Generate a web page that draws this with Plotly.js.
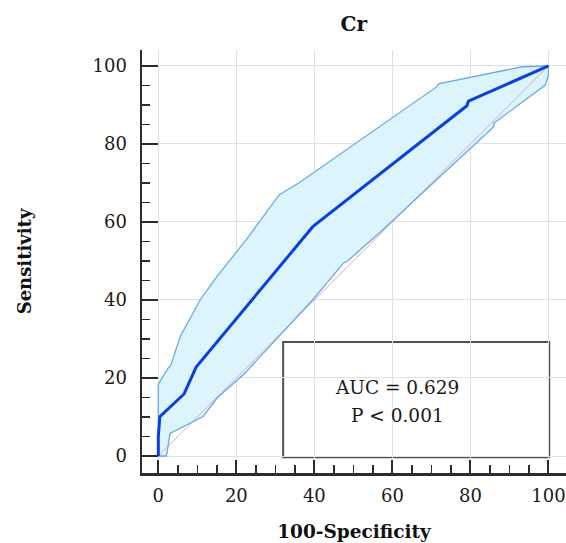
<!DOCTYPE html>
<html>
<head>
<meta charset="utf-8">
<script src="https://cdn.plot.ly/plotly-3.0.1.min.js"></script>
<style>html,body{margin:0;padding:0;background:#fff;}#chart{width:566px;height:543px;}</style>
</head>
<body>
<div id="chart"></div>
<script>
// ROC curve (100-Specificity vs Sensitivity)
var rocX = [0, 0, 0.4, 6.0, 6.6, 9.7, 39.0, 39.6, 79.1, 79.5, 100];
var rocY = [0, 5, 10.1, 15.5, 15.9, 22.8, 58.2, 58.8, 89.8, 91.0, 100];

// Upper confidence bound
var upX = [0, 0, 2.5, 3.2, 5.6, 10.7, 15.0, 22.5, 31.0, 36.0, 71.4, 71.8, 93.2, 100];
var upY = [0, 18.4, 22.5, 23.2, 30.6, 40.0, 46.0, 55.4, 67.0, 70.0, 94.7, 95.4, 99.8, 100];

// Lower confidence bound
var loX = [0, 2.1, 3.0, 11.5, 15.0, 22.0, 40.0, 47.5, 48.5, 57.0, 86.0, 86.0, 99.2, 100, 100];
var loY = [0, 0, 5.8, 10.1, 14.8, 21.0, 40.5, 49.5, 50.0, 57.5, 84.4, 85.3, 95.1, 97.7, 100];

// Reference diagonal
var diagX = [0, 100];
var diagY = [0, 100];

var tickVals = [0, 20, 40, 60, 80, 100];
var tickText = ["0", "20", "40", "60", "80", "100"];

var titleText = "Cr";
var xTitle = "100-Specificity";
var yTitle = "Sensitivity";
var aucText = "AUC = 0.629";
var pText = "P < 0.001";

var bandX = upX.concat(loX.slice().reverse());
var bandY = upY.concat(loY.slice().reverse());

var serif = "DejaVu Serif, Liberation Serif, serif";

var traces = [
  {x: bandX, y: bandY, type: "scatter", mode: "lines", fill: "toself",
   fillcolor: "#dcf5fc", line: {width: 0, color: "rgba(0,0,0,0)"}, hoverinfo: "skip"},
  {x: diagX, y: diagY, type: "scatter", mode: "lines",
   line: {color: "#d6a9cc", width: 1}},
  {x: loX, y: loY, type: "scatter", mode: "lines",
   line: {color: "#6aa8ea", width: 1.3}},
  {x: upX, y: upY, type: "scatter", mode: "lines",
   line: {color: "#6aa8ea", width: 1.3}},
  {x: rocX, y: rocY, type: "scatter", mode: "lines",
   line: {color: "#0b3fe0", width: 3}}
];

var axisCommon = {
  showline: true, linecolor: "#2b2b2b", linewidth: 2.5,
  showgrid: true, gridcolor: "#d9e3df", gridwidth: 1,
  zeroline: false, ticks: "inside", tickcolor: "#2b2b2b", tickwidth: 2,
  tickmode: "array", tickvals: tickVals, ticktext: tickText,
  tickfont: {family: serif, size: 18, color: "#1a1a1a"},
  minor: {dtick: 5, tick0: 0, ticks: "inside", ticklen: 8, tickwidth: 1.5, tickcolor: "#2b2b2b", showgrid: false},
  fixedrange: true
};

var layout = {
  width: 566, height: 543,
  margin: {l: 142, r: 0, t: 50, b: 70},
  paper_bgcolor: "#ffffff", plot_bgcolor: "#ffffff",
  showlegend: false,
  title: {text: titleText, font: {family: serif, size: 20, color: "#111", weight: "bold"},
          x: 0.625, xanchor: "center", y: 0.955, yanchor: "middle"},
  xaxis: Object.assign({}, axisCommon, {
    range: [-4.18, 104.5], ticklen: 13,
    ticklabelstandoff: 5,
    title: {text: xTitle, font: {family: serif, size: 18.5, color: "#111", weight: "bold"}, standoff: 20}
  }),
  yaxis: Object.assign({}, axisCommon, {
    range: [-4.36, 104.1], ticklen: 16,
    ticklabelstandoff: 9,
    title: {text: yTitle, font: {family: serif, size: 18, color: "#111", weight: "bold"}, standoff: 56}
  }),
  shapes: [
    {type: "rect", xref: "x", yref: "y", x0: 32.0, x1: 100.2, y0: -0.3, y1: 29.2,
     line: {color: "#4a5252", width: 2}, fillcolor: "#ffffff", layer: "below"}
  ],
  annotations: [
    {xref: "x", yref: "y", x: 61.3, y: 17.5, text: aucText, showarrow: false,
     font: {family: serif, size: 18.5, color: "#1a1a1a"}, xanchor: "center", yanchor: "middle"},
    {xref: "x", yref: "y", x: 61.3, y: 10.3, text: pText, showarrow: false,
     font: {family: serif, size: 18.5, color: "#1a1a1a"}, xanchor: "center", yanchor: "middle"}
  ]
};

Plotly.newPlot("chart", traces, layout, {displayModeBar: false, staticPlot: true});
</script>
</body>
</html>
